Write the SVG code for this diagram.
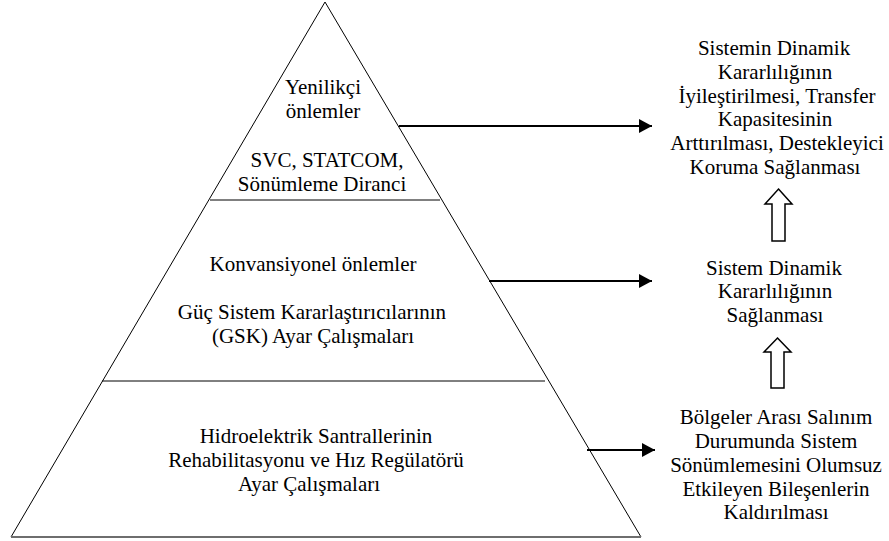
<svg xmlns="http://www.w3.org/2000/svg" width="889" height="541" viewBox="0 0 889 541" font-family="'Liberation Serif', 'Times New Roman', serif" font-size="21">
<style>
text{fill:#000;text-anchor:middle}
.edge{fill:none;stroke:#000;stroke-width:1}
.base{fill:none;stroke:#6e6e6e;stroke-width:2}
.arr{fill:none;stroke:#000;stroke-width:2}
.hollow{fill:#fff;stroke:#000;stroke-width:1.5;stroke-linejoin:miter}
</style>
<defs>
<marker id="ah" markerWidth="13" markerHeight="14" refX="13" refY="7" orient="auto" markerUnits="userSpaceOnUse">
<path d="M0,0 L13,7 L0,14 Z" fill="#000"/>
</marker>
</defs>
<g id="pyramid">
<path class="edge" d="M11,537 L325,2 L641,537"/>
<line class="base" x1="11" y1="537" x2="641" y2="537"/>
</g>
<g id="layer-top">
<line class="edge" x1="210" y1="200" x2="440" y2="200"/>
<text x="323" y="94">Yenilikçi</text>
<text x="323" y="118">önlemler</text>
<text x="327" y="167">SVC, STATCOM,</text>
<text x="322" y="191">Sönümleme Diranci</text>
</g>
<g id="layer-middle">
<line class="edge" x1="102" y1="381" x2="545" y2="381"/>
<text x="313" y="271">Konvansiyonel önlemler</text>
<text x="312" y="319">Güç Sistem Kararlaştırıcılarının</text>
<text x="313" y="343">(GSK) Ayar Çalışmaları</text>
</g>
<g id="layer-bottom">
<text x="316" y="443">Hidroelektrik Santrallerinin</text>
<text x="316" y="467">Rehabilitasyonu ve Hız Regülatörü</text>
<text x="309" y="491">Ayar Çalışmaları</text>
</g>
<g id="result-top">
<text x="774" y="55">Sistemin Dinamik</text>
<text x="775" y="79">Kararlılığının</text>
<text x="777" y="103">İyileştirilmesi, Transfer</text>
<text x="775" y="126">Kapasitesinin</text>
<text x="777" y="150">Arttırılması, Destekleyici</text>
<text x="775" y="174">Koruma Sağlanması</text>
</g>
<g id="result-middle">
<text x="774" y="275">Sistem Dinamik</text>
<text x="775" y="298">Kararlılığının</text>
<text x="775" y="322">Sağlanması</text>
</g>
<g id="result-bottom">
<text x="776" y="424">Bölgeler Arası Salınım</text>
<text x="776" y="448">Durumunda Sistem</text>
<text x="776" y="472">Sönümlemesini Olumsuz</text>
<text x="776" y="496">Etkileyen Bileşenlerin</text>
<text x="776" y="519">Kaldırılması</text>
</g>
<g id="connectors">
<line class="arr" x1="399" y1="126" x2="652" y2="126" marker-end="url(#ah)"/>
<line class="arr" x1="489" y1="281" x2="652" y2="281" marker-end="url(#ah)"/>
<line class="arr" x1="587" y1="450" x2="655" y2="450" marker-end="url(#ah)"/>
<path class="hollow" d="M778.5,189 L792,204 L785,204 L785,241 L772,241 L772,204 L765,204 Z"/>
<path class="hollow" d="M777.5,338 L791,352 L784,352 L784,388 L771,388 L771,352 L764,352 Z"/>
</g>
</svg>
